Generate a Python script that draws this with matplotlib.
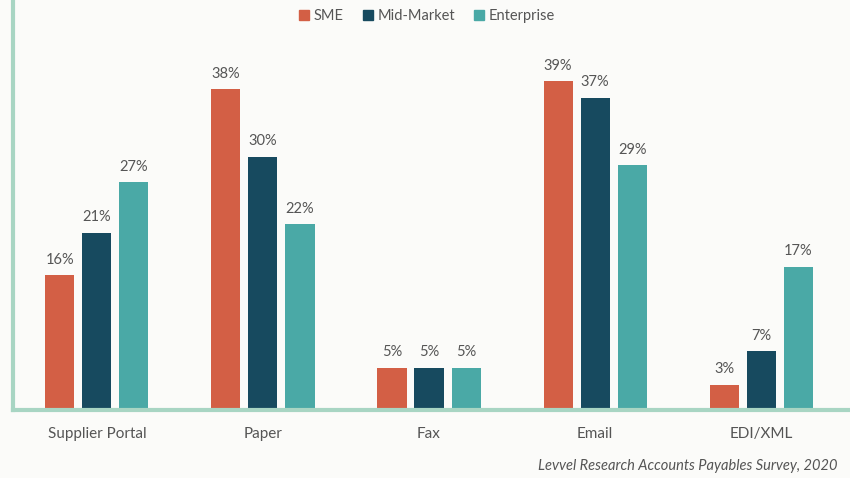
#!/usr/bin/env python3

import matplotlib.pyplot as plt
import numpy as np
from matplotlib.patches import Patch

categories = ["Supplier Portal", "Paper", "Fax", "Email", "EDI/XML"]
series = ["SME", "Mid-Market", "Enterprise"]
sme = [16, 38, 5, 39, 3]
mid_market = [21, 30, 5, 37, 7]
enterprise = [27, 22, 5, 29, 17]
source = "Levvel Research Accounts Payables Survey, 2020"

colors = ["#d35f45", "#174a5f", "#4aa9a6"]
text_color = "#555555"
spine_color = "#a8d5c3"
background = "#fbfbf9"


def main():
    plt.rcParams["font.family"] = ["Lato", "DejaVu Sans"]

    fig = plt.figure(figsize=(8.5, 4.78), dpi=100)
    fig.patch.set_facecolor(background)
    ax = fig.add_axes([13 / 850, 68 / 478, 837 / 850, 410 / 478])
    ax.set_facecolor(background)

    x = np.arange(len(categories))
    width = 0.175
    step = 0.223

    for i, (name, values) in enumerate(zip(series, [sme, mid_market, enterprise])):
        pos = x + (i - 1) * step
        bars = ax.bar(pos, values, width=width, color=colors[i], label=name)
        for b, v in zip(bars, values):
            ax.text(
                b.get_x() + b.get_width() / 2,
                v + 1.0,
                f"{v}%",
                ha="center",
                va="bottom",
                fontsize=10.5,
                color=text_color,
            )

    ax.set_xlim(-0.505, 4.535)
    ax.set_ylim(0, 48.6)
    ax.set_xticks(x)
    ax.set_xticklabels(categories, fontsize=11, color=text_color)
    ax.tick_params(axis="x", length=0, pad=12)
    ax.set_yticks([])

    for side in ["top", "right"]:
        ax.spines[side].set_visible(False)
    for side in ["left", "bottom"]:
        ax.spines[side].set_color(spine_color)
        ax.spines[side].set_linewidth(3)

    handles = [Patch(color=c, label=s) for c, s in zip(colors, series)]
    fig.legend(
        handles=handles,
        loc="center",
        bbox_to_anchor=(427 / 850, 1 - 16 / 478),
        ncol=3,
        frameon=False,
        fontsize=10.5,
        handlelength=0.7,
        handleheight=0.7,
        handletextpad=0.3,
        columnspacing=1.3,
        labelcolor=text_color,
    )

    fig.text(
        838 / 850,
        1 - 466 / 478,
        source,
        ha="right",
        va="center",
        fontsize=10.5,
        style="italic",
        color=text_color,
    )

    fig.savefig("out.png", dpi=100, facecolor=fig.get_facecolor())
    plt.close(fig)


if __name__ == "__main__":
    main()
